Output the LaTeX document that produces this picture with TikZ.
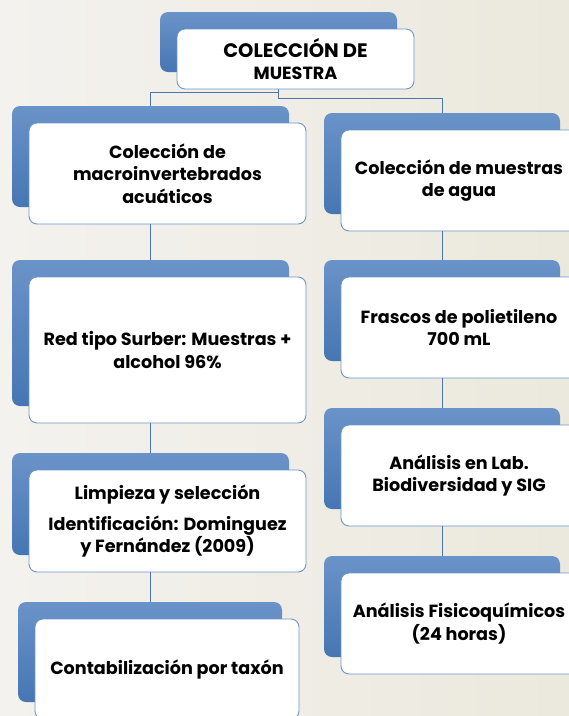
\documentclass[tikz,border=0pt]{standalone}
\usepackage{fontspec}
\setmainfont{Poppins}
\definecolor{shA}{HTML}{6A93C8}
\definecolor{shB}{HTML}{4676B3}
\definecolor{bord}{HTML}{6F96C9}
\definecolor{lineC}{HTML}{4A77AD}
\definecolor{bgA}{HTML}{F4F2EE}
\definecolor{bgB}{HTML}{EBE8DD}
\newcommand\boxpair[6]{%
  \node[shadowbox, minimum width={(#4-#2)*1pt}, minimum height={(#5-#3)*1pt}] (s#1) at ({(#2+#4)/2-17},{(#3+#5)/2-17}) {};
  \node[whitebox, minimum width={(#4-#2)*1pt}, minimum height={(#5-#3)*1pt}] (w#1) at ({(#2+#4)/2},{(#3+#5)/2}) {#6};}
\begin{document}
\begin{tikzpicture}[x=1pt,y=-1pt,
  shadowbox/.style={rounded corners=8pt, top color=shA, bottom color=shB, draw=none, inner sep=0pt},
  whitebox/.style={draw=bord, line width=0.9pt, fill=white, rounded corners=8pt, inner sep=0pt, align=center, font=\fontsize{17.6}{22.5}\selectfont\bfseries},
  conn/.style={draw=lineC, line width=0.9pt}]
\path[use as bounding box, left color=bgA, right color=bgB] (0,0) rectangle (569,716);
\boxpair{0}{177}{29}{414}{89}{\fontsize{19.5}{18}\selectfont COLECCIÓN DE\\MUESTRA}
\boxpair{1}{29}{123}{306}{224}{Colección de\\macroinvertebrados\\acuáticos}
\boxpair{2}{29}{277}{306}{423}{Red tipo Surber: Muestras +\\alcohol 96\%}
\boxpair{3}{29}{470}{306}{572}{Limpieza y selección\\[8pt]Identificación: Dominguez\\y Fernández (2009)}
\boxpair{4}{35}{619}{299}{719}{Contabilización por taxón}
\boxpair{5}{341}{130}{577}{231}{Colección de muestras\\de agua}
\boxpair{6}{341}{277}{577}{378}{Frascos de polietileno\\700 mL}
\boxpair{7}{341}{425}{577}{526}{Análisis en Lab.\\Biodiversidad y SIG}
\boxpair{8}{341}{573}{577}{674}{Análisis Fisicoquímicos\\(24 horas)}
\draw[conn] (w0.south -| s0.north) -- ++(0,3) -| (s1.north);
\draw[conn] (w0.south -| s0.north) -- ++(0,9) -| (s5.north);
\draw[conn] (w1.south -| s2.north) -- (s2.north);
\draw[conn] (w2.south -| s3.north) -- (s3.north);
\draw[conn] (w3.south -| s4.north) -- (s4.north);
\draw[conn] (w5.south -| s6.north) -- (s6.north);
\draw[conn] (w6.south -| s7.north) -- (s7.north);
\draw[conn] (w7.south -| s8.north) -- (s8.north);
\end{tikzpicture}
\end{document}
